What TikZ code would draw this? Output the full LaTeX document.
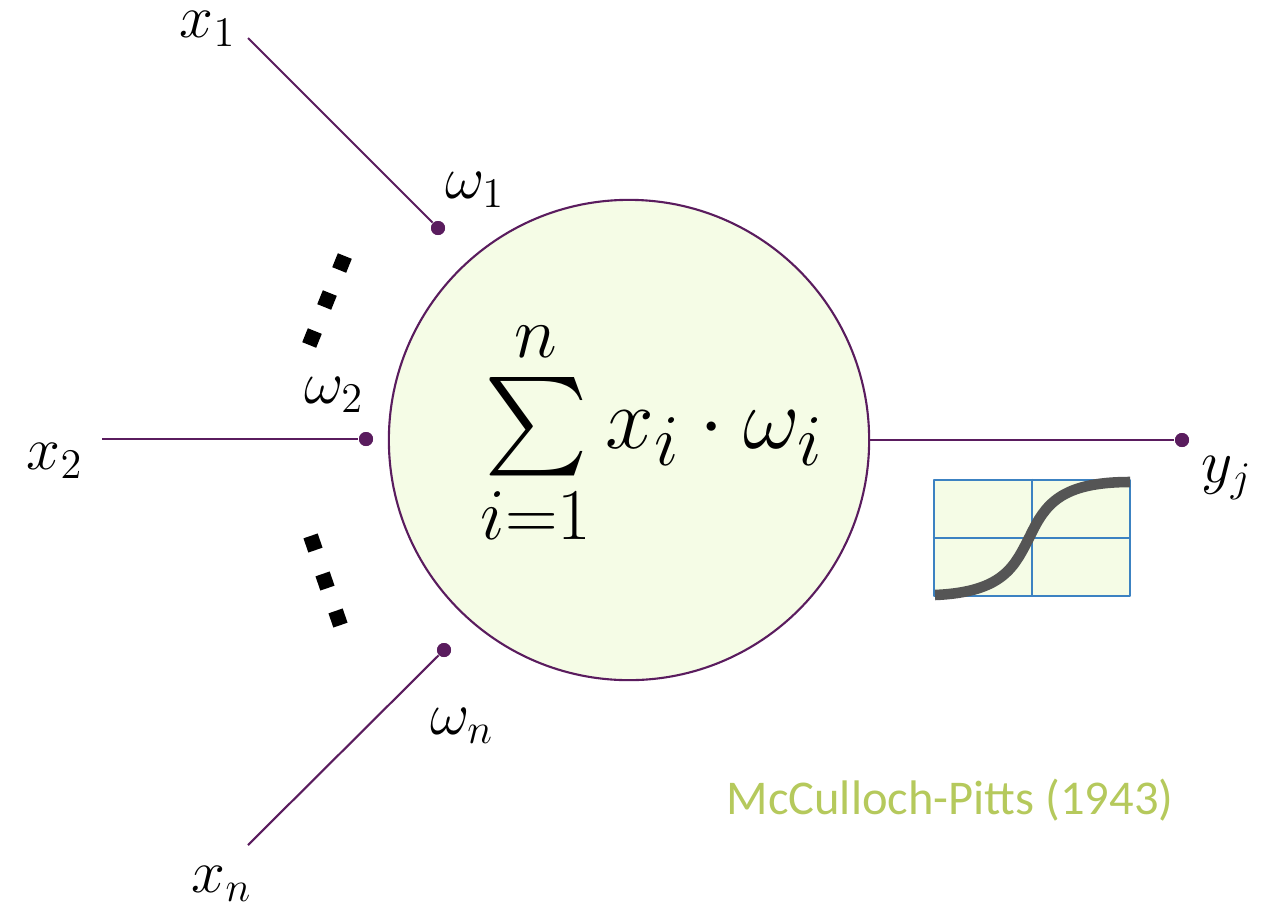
\documentclass[tikz,border=0pt]{standalone}
\usepackage{amsmath,amssymb}
\usepackage{fontspec}
\newfontfamily\creditfont{Carlito}
\usepackage{tikz}
\usetikzlibrary{
  calc,
  positioning
}
\definecolor{NeuPurple}{HTML}{5A1C5E}
\definecolor{NeuFill}{HTML}{F5FCE6}
\definecolor{PlotBlue}{HTML}{3C82C2}
\definecolor{CurveGray}{HTML}{555555}
\definecolor{CreditGreen}{HTML}{B5C95C}
\tikzset{
  every picture/.style = {line join=round},
  neuron/.style = {
    circle,
    draw=NeuPurple,
    fill=NeuFill,
    line width=0.6pt,
    minimum size=4.80cm,
    inner sep=0pt
  },
  synapse/.style = {circle, fill=NeuPurple, minimum size=1.4mm, inner sep=0pt},
  wire/.style = {draw=NeuPurple, line width=0.6pt},
  var label/.style = {font=\fontsize{18}{21}\selectfont, inner sep=1pt},
  sum label/.style = {font=\fontsize{28}{32}\selectfont, inner sep=0pt},
  ellip dot/.style = {rectangle, fill=black, minimum size=1.5mm, inner sep=0pt},
  plot box/.style = {
    draw=PlotBlue,
    fill=NeuFill,
    line width=0.8pt,
    minimum width=1.96cm,
    minimum height=1.16cm,
    inner sep=0pt
  },
  plot grid/.style = {draw=PlotBlue, line width=0.8pt},
  sigmoid/.style = {draw=CurveGray, line width=3pt},
  credit/.style = {font=\creditfont\fontsize{13.8}{16}\selectfont, text=CreditGreen}
}
\begin{document}
\begin{tikzpicture}[x=0.01cm,y=-0.01cm]
  \useasboundingbox (0,0) rectangle (1268,918);

  \node[neuron] (neuron) at (629,440) {};
  \node[sum label] (sum) at (652,433) {$\sum\limits_{i=1}^{n} x_i \cdot \omega_i$};

  % inputs
  \coordinate (in1) at (248,38);
  \coordinate (in2) at (102,439);
  \coordinate (inn) at (248,845);
  \node[synapse] (s1) at (438,228) {};
  \node[synapse] (s2) at (366,439) {};
  \node[synapse] (sn) at (444,650) {};
  \node[synapse] (yout) at (1182,440) {};

  \draw[wire] (in1) -- (s1);
  \draw[wire] (in2) -- (s2);
  \draw[wire] (inn) -- (sn);
  \draw[wire] (neuron.east) -- (yout);
  \node[synapse] at (s1) {};
  \node[synapse] at (s2) {};
  \node[synapse] at (sn) {};
  \node[synapse] at (yout) {};

  \node[var label] (x1) at (208,29) {$x_1$};
  \node[var label] (x2) at (55,461) {$x_2$};
  \node[var label] (xn) at (222,884) {$x_n$};
  \node[var label] (w1) at (475,190) {$\omega_1$};
  \node[var label] (w2) at (334,395) {$\omega_2$};
  \node[var label] (wn) at (462,726) {$\omega_n$};
  \node[var label] (yj) at (1227,478) {$y_j$};

  % dots between the inputs
  \foreach \px/\py [count=\k] in {342/263, 327/300, 312/338}
    \node[ellip dot, rotate=-22] (up\k) at (\px,\py) {};
  \foreach \px/\py [count=\k] in {313/543, 325/581, 338/618}
    \node[ellip dot, rotate=19] (lo\k) at (\px,\py) {};

  % activation
  \node[plot box] (act) at (1032,538) {};
  \draw[plot grid] (act.north) -- (act.south);
  \draw[plot grid] (act.west) -- (act.east);
  \draw[sigmoid] (935,595) .. controls (1005,592) and (1015,565) .. (1030,536)
    .. controls (1045,505) and (1060,482) .. (1130,482);

  \node[credit] (credit) at (950,800) {McCulloch-Pitts (1943)};
\end{tikzpicture}
\end{document}
